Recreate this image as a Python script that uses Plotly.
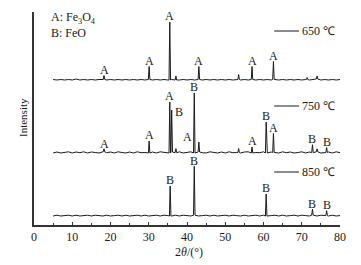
import plotly.graph_objects as go

# ---- data ----
grid = list(range(5, 81))  # 2theta background sampling, degrees

bg_650 = [0.5,0,0.5,0,0.5,0,1,0,0.5,0,0.5,0,0.5,0.5,0,0.5,0,0.5,0,0.5,
          0,0.5,0,0.5,0,0.5,0,0.5,0,0.5,0,0.5,0,0,0.5,0,0.5,0,0.5,0,
          0.5,0,0.5,0,0.5,0,0.5,0,0.5,0,0.5,0,0.5,0,0.5,0,0.5,0,0.5,0,
          0.5,0,0.5,0,0.5,0,0.5,0,0.5,1,0,0.5,0,0.5,0,0.5]
bg_750 = [0,1,0,0.5,1.2,0,1,0.3,1.2,0,1,0.5,0,1.2,0.3,1,0,1.2,0.5,0,
          1,0,1.2,0.3,0.5,0,1,0,1.2,0.5,0,1,0.3,1.2,0,0.5,1.2,0,1,0.3,
          0,1.2,0.5,0,1,0,1.2,0.3,0.5,0,1,1.2,0,0.5,0.3,1.2,0,1,0.5,0,
          1.2,0.3,1,0,0.5,1.2,0,1,0.3,1.2,0,0.5,1,0,1.2,0.3]
bg_850 = [0,0.8,0,0.4,0.8,0,0.8,0,0.4,0.8,0,0.8,0.4,0,0.8,0,0.4,0.8,0,0.8,
          0,0.4,0.8,0,0.8,0,0.4,0.8,0,0.8,0.4,0,0.8,0,0.8,0.4,0,0.8,0,0.4,
          0.8,0,0.8,0,0.4,0.8,0,0.8,0.4,0,0.8,0,0.4,0.8,0,0.8,0,0.4,0.8,0,
          0.8,0,0.4,0.8,0,0.8,0.4,0,0.8,0,0.8,0.4,0,0.8,0,0.4]

peaks_650_x = [18.3, 30.1, 35.5, 37.1, 43.1, 53.5, 57.0, 62.6, 71.4, 74.0]
peaks_650_h = [4, 13, 58, 4, 13, 5, 13, 18, 2, 3]
labels_650 = ["A", "A", "A", "", "A", "", "A", "A", "", ""]

peaks_750_x = [18.3, 30.1, 35.5, 36.0, 37.1, 41.9, 43.1, 53.5, 57.0, 60.7, 62.6, 72.8, 74.0, 76.5]
peaks_750_h = [3, 12, 51, 42, 4, 60, 10, 4, 6, 31, 19, 8, 3, 5]
labels_750 = ["A", "A", "A", "B", "", "B", "", "", "A", "B", "A", "B", "", "B"]

peaks_850_x = [35.6, 41.9, 60.7, 72.8, 76.5]
peaks_850_h = [30, 49, 22, 6, 5]
labels_850 = ["B", "B", "B", "B", "B"]

temps = ["650 ℃", "750 ℃", "850 ℃"]
x_ticks = [0, 10, 20, 30, 40, 50, 60, 70, 80]

# ---- layout / styling ----
offsets = [145, 72, 9]
series = [
    (bg_650, peaks_650_x, peaks_650_h, labels_650),
    (bg_750, peaks_750_x, peaks_750_h, labels_750),
    (bg_850, peaks_850_x, peaks_850_h, labels_850),
]
temp_label_y = [194, 119, 53]
HW = 0.2
FONT = "Liberation Serif, Times New Roman, serif"
INK = "#1a1a1a"

fig = go.Figure()
annotations = []
shapes = []

for (bg, px, ph, lab), off, ty, tname in zip(series, offsets, temp_label_y, temps):
    pts = [(g, b) for g, b in zip(grid, bg)
           if not any(abs(g - x0) <= HW + 0.05 for x0 in px)]
    for x0, h in zip(px, ph):
        base = bg[min(range(len(grid)), key=lambda i: abs(grid[i] - x0))]
        pts.append((x0 - HW, base))
        pts.append((x0, base + h))
        pts.append((x0 + HW, base))
    pts.sort(key=lambda p: p[0])
    fig.add_trace(go.Scatter(x=[p[0] for p in pts], y=[p[1] + off for p in pts],
                             mode="lines", line=dict(color=INK, width=1),
                             hoverinfo="skip", showlegend=False))
    for x0, h, t in zip(px, ph, lab):
        if not t:
            continue
        ax_anchor = "center"
        xs = 0
        ys = -3
        if tname.startswith("750") and t == "B" and abs(x0 - 36.0) < 0.01:
            ax_anchor = "left"; xs = 1; ys = -10
        annotations.append(dict(x=x0, y=off + h, text=t, showarrow=False,
                                xanchor=ax_anchor, yanchor="bottom", xshift=xs, yshift=ys,
                                font=dict(family=FONT, size=12, color=INK)))
    shapes.append(dict(type="line", xref="x", yref="y", x0=62.8, x1=69.3, y0=ty, y1=ty,
                       line=dict(color=INK, width=1)))
    annotations.append(dict(x=69.6, y=ty, text=tname, showarrow=False, xanchor="left",
                            yanchor="middle", font=dict(family=FONT, size=12, color=INK)))

# extra A label for the small Fe3O4 peak near the 750 FeO peak
annotations.append(dict(x=40.0, y=offsets[1] + 10, text="A", showarrow=False,
                        xanchor="center", yanchor="bottom", yshift=-3,
                        font=dict(family=FONT, size=12, color=INK)))

annotations.append(dict(xref="paper", yref="paper", x=0.05, y=0.972,
                        text="A: Fe<sub>3</sub>O<sub>4</sub>",
                        showarrow=False, xanchor="left", yanchor="middle",
                        font=dict(family=FONT, size=12, color=INK)))
annotations.append(dict(xref="paper", yref="paper", x=0.05, y=0.901, text="B: FeO",
                        showarrow=False, xanchor="left", yanchor="middle",
                        font=dict(family=FONT, size=12, color=INK)))

# axis titles as annotations (fixed positions)
annotations.append(dict(xref="paper", yref="paper", x=-0.036, y=0.507, text="Intensity",
                        textangle=-90, showarrow=False, xanchor="center", yanchor="middle",
                        font=dict(family=FONT, size=11, color=INK)))
annotations.append(dict(xref="paper", yref="paper", x=0.505, y=-0.128, text="2<i>θ</i>/(°)",
                        showarrow=False, xanchor="center", yanchor="middle",
                        font=dict(family=FONT, size=12, color=INK)))

# page body has an 8px default margin: figure is sized to fit inside the window
fig.update_layout(
    width=353, height=257,
    margin=dict(l=26, r=21, t=4, b=40, autoexpand=False),
    paper_bgcolor="white", plot_bgcolor="white",
    font=dict(family=FONT, size=12, color=INK),
    annotations=annotations, shapes=shapes,
    xaxis=dict(range=[0, 80], tickvals=x_ticks, ticks="inside", ticklen=3,
               tickcolor="#333", showline=True, linecolor="#333", linewidth=1.5,
               showgrid=False, zeroline=False, automargin=False,
               minor=dict(ticks="inside", ticklen=2, dtick=5, tickcolor="#333"),
               tickfont=dict(size=12)),
    yaxis=dict(range=[0, 213], showticklabels=False, ticks="", showline=True,
               linecolor="#333", linewidth=1.5, showgrid=False, zeroline=False,
               automargin=False),
)

fig.write_html("out.html")
